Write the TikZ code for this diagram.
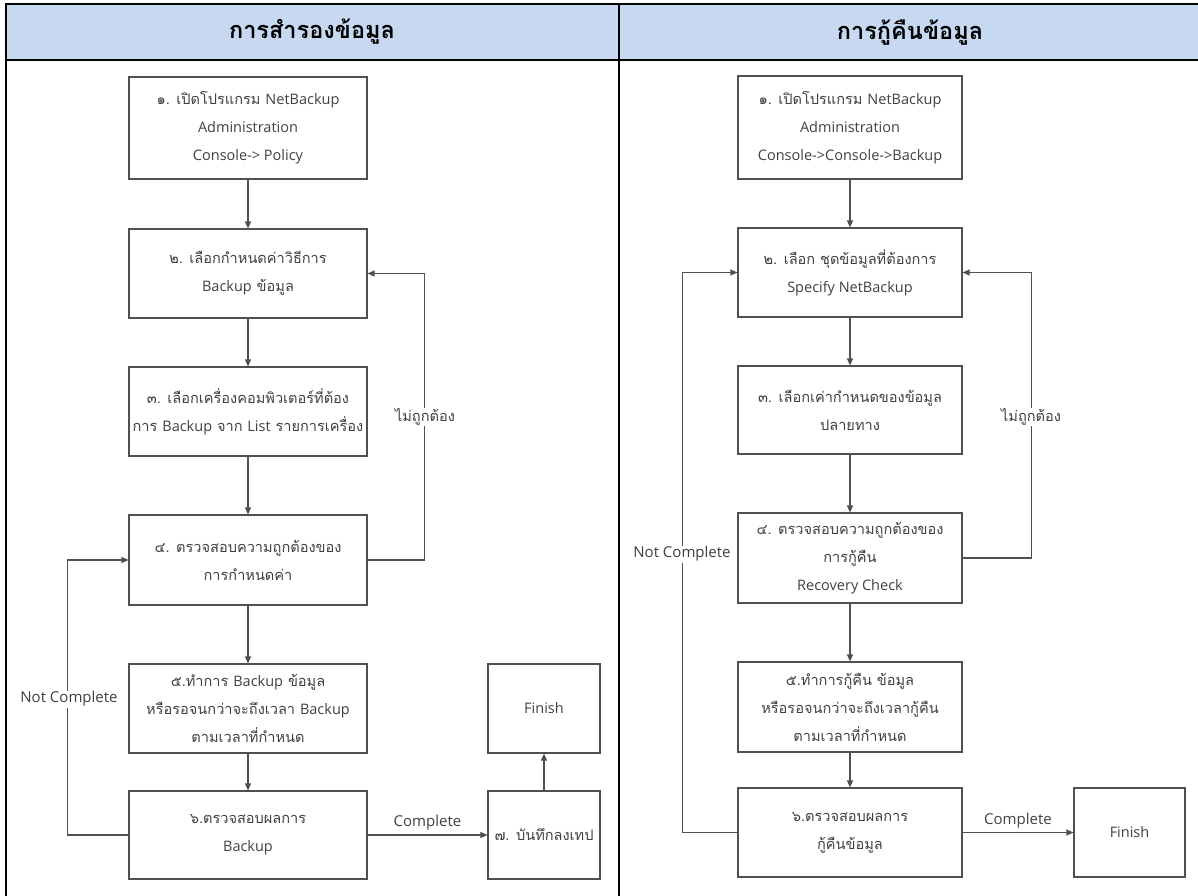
\documentclass[tikz,border=0pt]{standalone}
\usepackage{fontspec}
\setmainfont[Script=Thai,Scale=1.12]{Loma}
\newfontfamily\enfont{Open Sans}
\usetikzlibrary{arrows.meta}
\definecolor{hdr}{HTML}{C6D9F1}
\definecolor{ln}{HTML}{505050}
\definecolor{tx}{HTML}{404040}
\newcommand\en[1]{{\enfont\fontsize{14.5}{28}\selectfont #1}}
\begin{document}
\begin{tikzpicture}[x=1pt,y=-1pt,
  box/.style={draw=ln, line width=1.1pt, text=tx, align=center, inner sep=0pt, font=\fontsize{13}{28}\selectfont},
  conn/.style={draw=ln, line width=1.1pt, -{Triangle[length=7pt,width=6pt]}},
  lbl/.style={text=tx, font=\fontsize{13}{15}\selectfont, fill=white, inner sep=1pt},
  enlbl/.style={text=tx, font=\fontsize{15}{17}\selectfont\enfont, inner sep=1pt},
  frame/.style={draw=black, line width=2pt},
  title/.style={font=\fontsize{21}{24}\selectfont\bfseries, text=black}]
\useasboundingbox (0,0) rectangle (1198,895);
% table
\fill[hdr] (6,4) rectangle (1205,60);
\draw[frame] (6,4) -- (1205,4);
\draw[frame] (6,60) -- (1205,60);
\draw[frame] (6,3) -- (6,900);
\draw[frame] (619,3) -- (619,900);
\draw[frame] (1200,3) -- (1200,900);
\node[title] (tl) at (312,32) {การสำรองข้อมูล};
\node[title] (tr) at (910,32) {การกู้คืนข้อมูล};
% left flow
\node[box, minimum width=238pt, minimum height=102pt] (l1) at (248,128) {๑. เปิดโปรแกรม \en{NetBackup}\\ \en{Administration}\\ \en{Console-> Policy}};
\node[box, minimum width=238pt, minimum height=89pt] (l2) at (248,273.5) {๒. เลือกกำหนดค่าวิธีการ\\ \en{Backup} ข้อมูล};
\node[box, minimum width=238pt, minimum height=89pt] (l3) at (248,411.5) {๓. เลือกเครื่องคอมพิวเตอร์ที่ต้อง\\ การ \en{Backup} จาก \en{List} รายการเครื่อง};
\node[box, minimum width=238pt, minimum height=90pt] (l4) at (248,560) {๔. ตรวจสอบความถูกต้องของ\\ การกำหนดค่า};
\node[box, minimum width=238pt, minimum height=89pt] (l5) at (248,708.5) {๕.ทำการ \en{Backup} ข้อมูล\\ หรือรอจนกว่าจะถึงเวลา \en{Backup}\\ ตามเวลาที่กำหนด};
\node[box, minimum width=238pt, minimum height=88pt] (l6) at (248,835) {๖.ตรวจสอบผลการ\\ \en{Backup}};
\node[box, minimum width=112pt, minimum height=89pt] (lfin) at (544,708.5) {\en{Finish}};
\node[box, minimum width=112pt, minimum height=88pt] (l7) at (544,835) {๗. บันทึกลงเทป};
\draw[conn] (l1) -- (l2);
\draw[conn] (l2) -- (l3);
\draw[conn] (l3) -- (l4);
\draw[conn] (l4) -- (l5);
\draw[conn] (l5) -- (l6);
\draw[conn] (l7) -- (lfin);
\draw[conn] (l6.east) -- node[enlbl, above=3pt] (lcomp) {Complete} (l7.west);
\draw[conn] (l4.east) -- ++(57,0) |- (l2.east);
\draw[conn] (l6.west) -- ++(-61,0) |- (l4.west);
\node[lbl] (lwrong) at (425,417) {ไม่ถูกต้อง};
\node[enlbl, fill=white] (lnot) at (69,699) {Not Complete};
% right flow
\node[box, minimum width=224pt, minimum height=103pt] (r1) at (850,127.5) {๑. เปิดโปรแกรม \en{NetBackup}\\ \en{Administration}\\ \en{Console->Console->Backup}};
\node[box, minimum width=224pt, minimum height=89pt] (r2) at (850,272.5) {๒. เลือก ชุดข้อมูลที่ต้องการ\\ \en{Specify NetBackup}};
\node[box, minimum width=224pt, minimum height=88pt] (r3) at (850,410) {๓. เลือกเค่ากำหนดของข้อมูล\\ ปลายทาง};
\node[box, minimum width=224pt, minimum height=90pt] (r4) at (850,558) {๔. ตรวจสอบความถูกต้องของ\\ การกู้คืน\\ \en{Recovery Check}};
\node[box, minimum width=224pt, minimum height=90pt] (r5) at (850,707) {๕.ทำการกู้คืน ข้อมูล\\ หรือรอจนกว่าจะถึงเวลากู้คืน\\ ตามเวลาที่กำหนด};
\node[box, minimum width=224pt, minimum height=89pt] (r6) at (850,832.5) {๖.ตรวจสอบผลการ\\ กู้คืนข้อมูล};
\node[box, minimum width=111pt, minimum height=89pt] (rfin) at (1129.5,832.5) {\en{Finish}};
\draw[conn] (r1) -- (r2);
\draw[conn] (r2) -- (r3);
\draw[conn] (r3) -- (r4);
\draw[conn] (r4) -- (r5);
\draw[conn] (r5) -- (r6);
\draw[conn] (r6.east) -- node[enlbl, above=3pt] (rcomp) {Complete} (rfin.west);
\draw[conn] (r4.east) -- ++(69,0) |- (r2.east);
\draw[conn] (r6.west) -- ++(-55,0) |- (r2.west);
\node[lbl] (rwrong) at (1031,417) {ไม่ถูกต้อง};
\node[enlbl, fill=white] (rnot) at (682,554) {Not Complete};
\end{tikzpicture}
\end{document}
